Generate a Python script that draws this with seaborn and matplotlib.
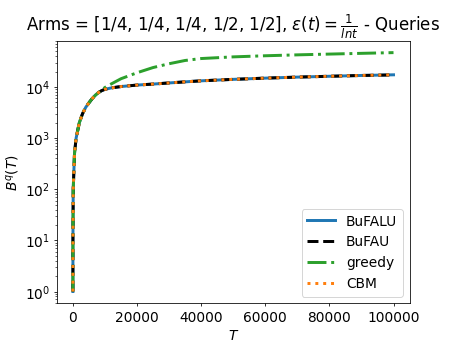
import numpy as np
import pandas as pd
import matplotlib
matplotlib.use('Agg')
import matplotlib.pyplot as plt
import seaborn as sns

plt.rcParams['font.size'] = 14

T = [1, 10, 100, 500, 1000, 2000, 3000, 4000, 5000, 6000, 7000, 8000, 9000, 10000,
     12000, 15000, 20000, 25000, 30000, 35000, 40000, 50000, 60000, 70000, 80000, 90000, 100000]

bufalu = [1, 10, 100, 500, 1000, 2000, 3000, 4000, 4900, 5900, 6900, 7800, 8500, 9000,
          9600, 10200, 10900, 11400, 12000, 12600, 13200, 14100, 14900, 15600, 16200, 16800, 17300]
bufau = [1, 10, 100, 500, 1000, 2000, 3000, 4000, 4900, 5900, 6900, 7800, 8500, 9000,
         9600, 10200, 10900, 11400, 12000, 12600, 13200, 14100, 14900, 15600, 16200, 16800, 17200]
greedy = [1, 10, 100, 500, 1000, 2000, 3000, 4000, 4900, 5900, 6900, 7800, 8700, 9800,
          11500, 14500, 19000, 24000, 28500, 33000, 36000, 38800, 40800, 42500, 44000, 45500, 47000]
cbm = [1, 10, 100, 500, 1000, 2000, 3000, 4000, 4900, 5900, 6900, 7800, 8500, 9000,
       9600, 10200, 10900, 11400, 12000, 12600, 13200, 14100, 14900, 15600, 16200, 16800, 17300]

df = pd.DataFrame({'T': T, 'BuFALU': bufalu, 'BuFAU': bufau, 'greedy': greedy, 'CBM': cbm})

fig, ax = plt.subplots(figsize=(6.4, 4.8), dpi=71.1)

sns.lineplot(data=df, x='T', y='BuFALU', ax=ax, label='BuFALU', color='tab:blue', linestyle='-', linewidth=3)
sns.lineplot(data=df, x='T', y='BuFAU', ax=ax, label='BuFAU', color='black', linestyle='--', linewidth=3)
sns.lineplot(data=df, x='T', y='greedy', ax=ax, label='greedy', color='tab:green', linestyle='-.', linewidth=3)
sns.lineplot(data=df, x='T', y='CBM', ax=ax, label='CBM', color='tab:orange', linestyle=':', linewidth=3)

ax.set_yscale('log')
ax.set_xlabel('$T$')
ax.set_ylabel('$B^q(T)$')
ax.set_title(r'Arms = [1/4, 1/4, 1/4, 1/2, 1/2], $\varepsilon(t) = \frac{1}{lnt}$ - Queries')
ax.legend(loc='lower right')

fig.savefig('out.png', dpi=71.1)
